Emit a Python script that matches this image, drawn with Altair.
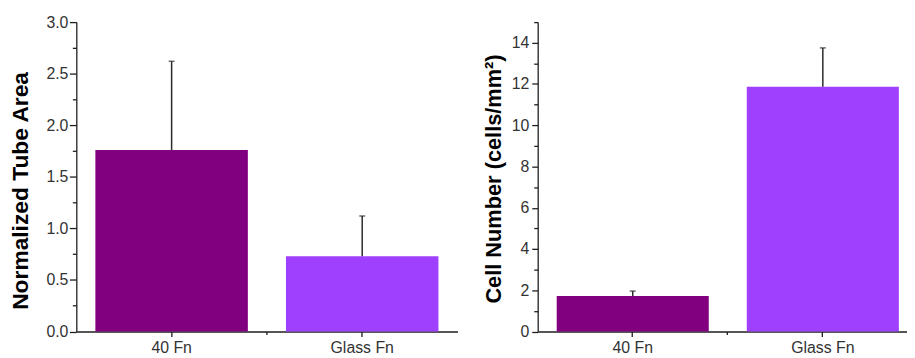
import altair as alt
import pandas as pd

categories = ["40 Fn", "Glass Fn"]
tube_area = [1.76, 0.73]
tube_err = [0.86, 0.39]
cell_number = [1.72, 11.87]
cell_err = [0.24, 1.88]
bar_colors = ["#800080", "#A040FF"]

left_ticks = [0.0, 0.25, 0.5, 0.75, 1.0, 1.25, 1.5, 1.75, 2.0, 2.25, 2.5, 2.75, 3.0]
right_ticks = [0, 1, 2, 3, 4, 5, 6, 7, 8, 9, 10, 11, 12, 13, 14, 15]

left_df = pd.DataFrame({"cat": categories, "val": tube_area, "err": tube_err})
left_df["top"] = left_df["val"] + left_df["err"]
right_df = pd.DataFrame({"cat": categories, "val": cell_number, "err": cell_err})
right_df["top"] = right_df["val"] + right_df["err"]

FONT = "Liberation Sans"
AX = "#1e1e1e"
LBL = "#333333"
H = 312.5


def panel(df, width, xscale, ydomain, yticks, label_expr, minor_test, title,
          tick_major, label_pad, title_pad, title_size, title_y):
    color = alt.Color("cat:N", scale=alt.Scale(domain=categories, range=bar_colors), legend=None)
    x_main = alt.X("cat:N", sort=categories, scale=xscale,
                   axis=alt.Axis(title=None, labelAngle=0, labelFont=FONT, labelFontSize=16,
                                 labelColor=LBL, labelPadding=3, tickSize=5, tickWidth=1.3,
                                 tickColor=AX, domainColor=AX, domainWidth=1.3))
    x_minor = alt.X("cat:N", sort=categories, scale=xscale,
                    axis=alt.Axis(title=None, orient="bottom", values=["Glass Fn"], bandPosition=-0.125,
                                  labels=False, domain=False, tickSize=3, tickWidth=1.3, tickColor=AX))
    yscale = alt.Scale(domain=ydomain, nice=False, zero=True)
    y_axis = alt.Axis(title=title, values=yticks, labelExpr=label_expr, labelOverlap=False,
                      labelFont=FONT, labelFontSize=16, labelColor=LBL, labelPadding=label_pad,
                      tickSize={"condition": {"test": minor_test, "value": 4}, "value": tick_major},
                      tickWidth=1.3, tickColor=AX, domainColor=AX, domainWidth=1.3,
                      titleFont=FONT, titleFontSize=title_size, titleFontWeight="bold",
                      titleColor="#000000", titlePadding=title_pad, titleY=title_y, grid=False)
    bars = alt.Chart(df).mark_bar().encode(
        x=x_main, y=alt.Y("val:Q", scale=yscale, axis=y_axis), color=color)
    rules = alt.Chart(df).mark_rule(color="#2a2a2a", strokeWidth=1.5).encode(
        x=x_minor, y=alt.Y("val:Q", scale=yscale, axis=y_axis), y2="top:Q")
    caps = alt.Chart(df).mark_tick(color="#2a2a2a", size=6, thickness=1.5).encode(
        x=alt.X("cat:N", sort=categories, scale=xscale, axis=None),
        y=alt.Y("top:Q", scale=yscale, axis=y_axis))
    return alt.layer(bars, rules, caps).resolve_axis(x="independent").properties(width=width, height=H)


left = panel(left_df, 385,
             alt.Scale(domain=categories, paddingInner=0.2, paddingOuter=0.1),
             [0, 3], left_ticks,
             "datum.value % 0.5 == 0 ? format(datum.value, '.1f') : ''",
             "datum.value % 0.5 != 0", "Normalized Tube Area", 7, 1.5, 14, 23, 170)
right = panel(right_df, 373,
              alt.Scale(domain=categories, paddingInner=0.2, paddingOuter=0.0714, align=0.7),
              [0, 15], right_ticks,
              "datum.value % 2 == 0 ? format(datum.value, 'd') : ''",
              "datum.value % 2 != 0", "Cell Number (cells/mm²)", 6, 3, 6, 22, 158)

chart = alt.hconcat(left, right, spacing=81, bounds="flush").properties(
    padding={"left": 1, "top": 4.5, "right": 0, "bottom": 0},
    background="white",
).configure_view(strokeWidth=0)

chart.save("out.html", embed_options={"renderer": "svg", "actions": False})
